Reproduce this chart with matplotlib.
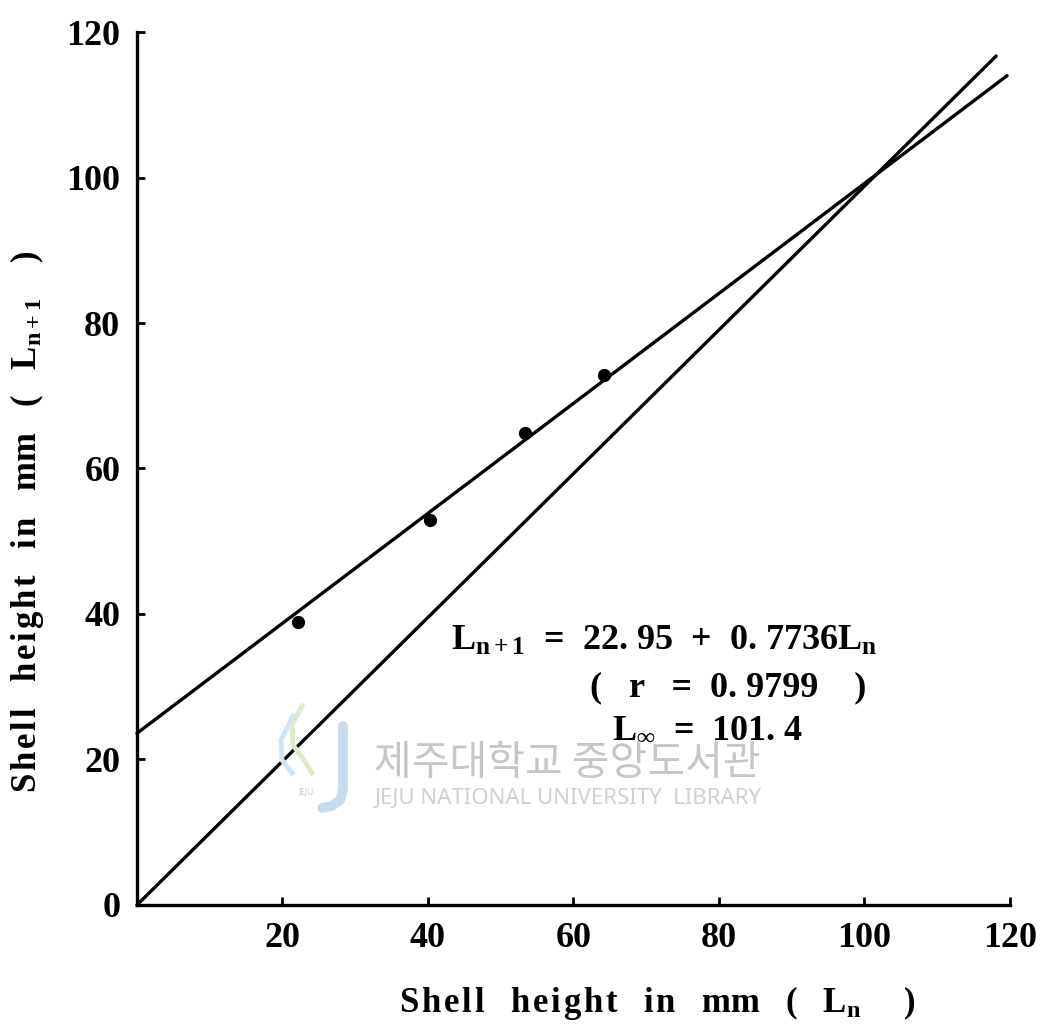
import numpy as np
import matplotlib.pyplot as plt
from matplotlib.lines import Line2D

# data
shellLn = [22.1, 40.3, 53.3, 64.2]
shellLn1 = [38.9, 52.9, 64.9, 72.9]
regX = [0, 119.6]       # fitted line as drawn
regY = [23.6, 114.0]
diagX = [0, 118.1]      # L(n+1) = L(n) line as drawn
diagY = [0, 116.7]
ticks = [20, 40, 60, 80, 100, 120]
yticks = [0, 20, 40, 60, 80, 100, 120]

HS = '\u200a'  # hair space, the original lettering is spaced out


def spaced(s):
    return HS.join(s)


plt.rcParams['font.family'] = ['Liberation Serif', 'DejaVu Serif']
plt.rcParams['font.weight'] = 'bold'
plt.rcParams['mathtext.fontset'] = 'custom'
plt.rcParams['mathtext.rm'] = 'Liberation Serif:bold'
plt.rcParams['mathtext.it'] = 'Liberation Serif:bold'
plt.rcParams['mathtext.bf'] = 'Liberation Serif:bold'

fig = plt.figure(figsize=(10.56, 10.30), dpi=100)
ax = fig.add_axes([0.1297, 0.1214, 0.8267, 0.8475])

ax.plot(regX, regY, color='black', lw=2.4, solid_capstyle='round', clip_on=False)
ax.plot(diagX, diagY, color='black', lw=2.4, solid_capstyle='round', clip_on=False)
ax.plot(shellLn, shellLn1, 'o', color='black', ms=8.5, clip_on=False)

ax.set_xlim(0, 120)
ax.set_ylim(0, 120)
ax.set_xticks(ticks)
ax.set_yticks(yticks)
ax.tick_params(direction='in', length=6, width=2, labelsize=26, pad=12)
for s in ['top', 'right']:
    ax.spines[s].set_visible(False)
for s in ['left', 'bottom']:
    ax.spines[s].set_linewidth(2.4)

gap = '   '
xlab = gap.join([spaced('Shell'), spaced('height'), spaced('in'), 'mm', '(', '$L_n$', '  )'])
ylab = gap.join([spaced('Shell'), spaced('height'), spaced('in'), 'mm', '(', '$L_{n+1}$', ' )'])
ax.set_xlabel(xlab, fontsize=25, fontweight='bold')
ax.set_ylabel(ylab, fontsize=25, fontweight='bold')
ax.xaxis.set_label_coords(0.596, -0.09)
ax.yaxis.set_label_coords(-0.104, 0.439)

ax.text(43.2, 35.0, '$L_{n+1}$  =  22. 95  +  0. 7736$L_n$', fontsize=26)
ax.text(62.3, 29.8, '(   r   =  0. 9799    )', fontsize=26, va='center')
ax.text(65.3, 24.2, '$L_\\infty$  =  101. 4', fontsize=26, va='center')

# library watermark
W, H = 1056, 1030


def fx(px):
    return px / W


def fy(py):
    return 1 - py / H


fig.add_artist(Line2D([fx(343), fx(343), fx(340), fx(332), fx(322)],
                      [fy(726), fy(790), fy(800), fy(806), fy(808)],
                      color='#c9d9ee', lw=7, solid_capstyle='round'))
fig.add_artist(Line2D([fx(302), fx(292), fx(293), fx(304), fx(312)],
                      [fy(706), fy(725), fy(745), fy(760), fy(773)],
                      color='#dcebc9', lw=3.5))
fig.add_artist(Line2D([fx(293), fx(281), fx(282), fx(292)],
                      [fy(716), fy(740), fy(760), fy(773)],
                      color='#d0e4f3', lw=3.5))
fig.text(fx(306), fy(792), 'JEJU', fontsize=6, color='#cccccc', ha='center', va='center',
         family=['Noto Sans', 'DejaVu Sans'], weight='bold')
fig.text(fx(374), fy(764), '제주대학교 중앙도서관', fontsize=29.5, color='#c6c6c6',
         family=['Noto Sans CJK KR', 'DejaVu Sans'], weight='normal', va='center')
fig.text(fx(375), fy(798), 'JEJU NATIONAL UNIVERSITY  LIBRARY', fontsize=16, color='#d0d0d0',
         family=['Noto Sans', 'DejaVu Sans'], weight='normal', va='center')

fig.savefig('out.png', dpi=100)
